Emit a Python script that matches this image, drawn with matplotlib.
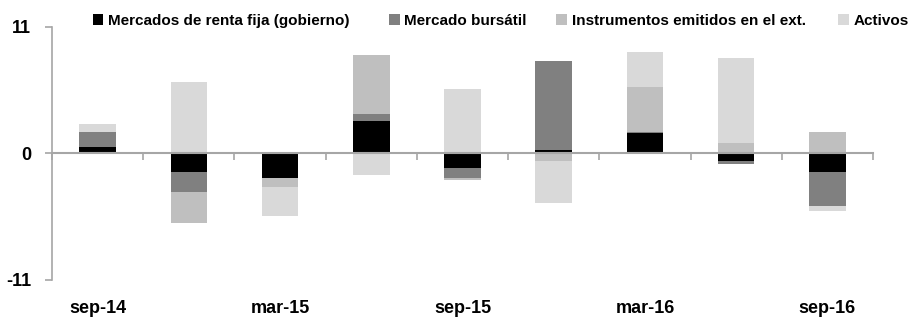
import matplotlib
matplotlib.use("Agg")
import matplotlib.pyplot as plt
import numpy as np

plt.rcParams['font.family'] = ['Liberation Sans Narrow', 'Liberation Sans', 'DejaVu Sans']
plt.rcParams['font.weight'] = 'bold'

# datos (puntos del PIB, aprox.)
periodos = ['sep-14', 'dic-14', 'mar-15', 'jun-15', 'sep-15', 'dic-15', 'mar-16', 'jun-16', 'sep-16']
etiquetas = ['sep-14', '', 'mar-15', '', 'sep-15', '', 'mar-16', '', 'sep-16']
renta_fija = [0.55, -1.65, -2.16, 2.86, -1.3, 0.29, 1.76, -0.69, -1.59]
bursatil = [1.35, -1.73, 0.15, 0.6, -0.86, 7.73, 0.1, -0.2, -3.0]
instrumentos = [0.0, -2.63, -0.78, 5.08, -0.15, -0.69, 3.95, 0.95, 1.9]
activos = [0.7, 6.26, -2.49, -1.9, 5.65, -3.61, 3.0, 7.36, -0.41]

series = [
    ('Mercados de renta fija (gobierno)', renta_fija, '#000000'),
    ('Mercado bursátil', bursatil, '#808080'),
    ('Instrumentos emitidos en el ext.', instrumentos, '#bfbfbf'),
    ('Activos', activos, '#d9d9d9'),
]
# posicion x (fraccion de figura) de cada entrada de la leyenda
pos_leyenda = [0.102, 0.428, 0.612, 0.922]

fig = plt.figure(figsize=(9.09, 3.18), dpi=100)
ax = fig.add_axes([0.0572, 0.1195, 0.9032, 0.7956])

x = np.arange(len(periodos))
pos = np.zeros(len(x))
neg = np.zeros(len(x))
barras = []
for nombre, vals, col in series:
    v = np.array(vals)
    base = np.where(v >= 0, pos, neg)
    b = ax.bar(x, v, 0.4, bottom=base, color=col, label=nombre, zorder=2)
    barras.append(b)
    pos = pos + np.where(v >= 0, v, 0)
    neg = neg + np.where(v < 0, v, 0)

gris = '#a6a6a6'
ax.set_xlim(-0.5, len(x) - 0.5)
ax.set_ylim(-11, 11)
ax.set_yticks([-11, 0, 11])
ax.set_yticklabels(['-11', '0', '11'], fontsize=13)
ax.tick_params(axis='y', length=5, color=gris, width=1.2, pad=10)

for s in ['top', 'right']:
    ax.spines[s].set_visible(False)
ax.spines['left'].set_color(gris)
ax.spines['left'].set_linewidth(1.2)
ax.spines['bottom'].set_position(('data', 0))
ax.spines['bottom'].set_color(gris)
ax.spines['bottom'].set_linewidth(1.5)
ax.spines['bottom'].set_zorder(3)

ax.set_xticks(np.arange(-0.5, len(x), 1.0))
ax.set_xticklabels([])
ax.tick_params(axis='x', length=5, color=gris, width=1.2, direction='out')

for i, et in enumerate(etiquetas):
    ax.text(x[i], -0.112, et, transform=ax.get_xaxis_transform(),
            ha='center', va='center', fontsize=13, fontweight='bold')

for b, (nombre, _, _), px in zip(barras, series, pos_leyenda):
    leg = fig.legend([b], [nombre], loc='center left', bbox_to_anchor=(px, 0.935),
                     frameon=False, fontsize=11, handlelength=0.7, handleheight=0.7,
                     handletextpad=0.3, borderaxespad=0, borderpad=0)

fig.savefig('out.png', dpi=100)
